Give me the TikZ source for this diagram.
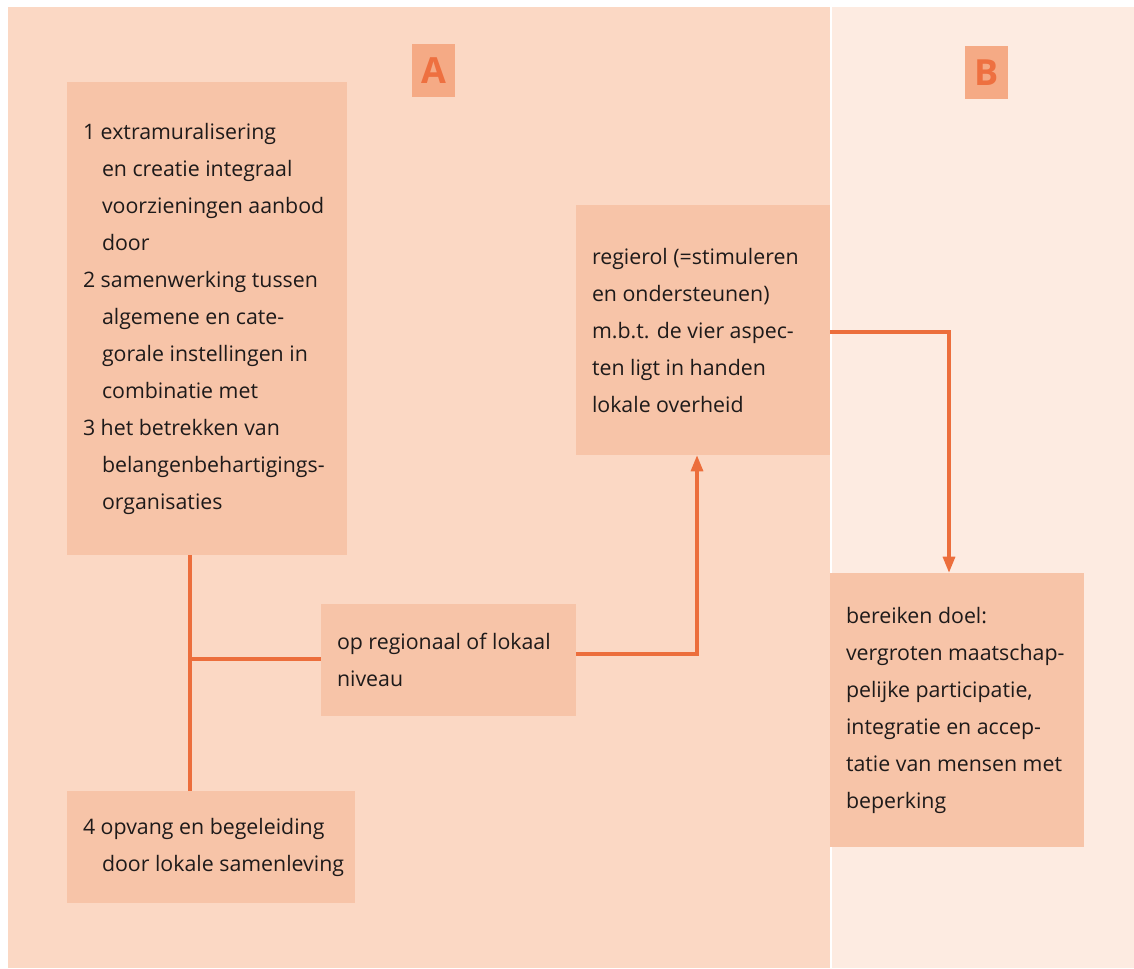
\documentclass[tikz,border=0pt]{standalone}
\usepackage{fontspec}
\setmainfont{Open Sans}
\usetikzlibrary{arrows.meta}
\definecolor{panelA}{HTML}{FBD8C4}
\definecolor{panelB}{HTML}{FDEBE1}
\definecolor{boxc}{HTML}{F7C4A8}
\definecolor{labbox}{HTML}{F5AA85}
\definecolor{labtxt}{HTML}{EE7040}
\definecolor{linec}{HTML}{EC6E3C}
\definecolor{txt}{HTML}{1E1A1A}
\tikzset{
  box/.style={fill=boxc, draw=none, inner sep=0, minimum width=#1},
  boxtext/.style={anchor=west, inner sep=0, align=left, text=txt,
    font=\fontsize{16}{27.75}\selectfont},
  labelbox/.style={fill=labbox, inner sep=0, minimum width=32.25pt, minimum height=39.75pt,
    text=labtxt, font=\fontsize{27}{30}\selectfont\bfseries},
  conn/.style={draw=linec, line width=2.3pt},
  arr/.style={conn, -{Triangle[length=12pt,width=9pt]}}
}
\begin{document}
\begin{tikzpicture}[x=0.75pt,y=-0.75pt]
\useasboundingbox (0,0) rectangle (1134,968);
% panels
\fill[white] (0,0) rectangle (1134,968);
\fill[panelA] (8,7) rectangle (830,968);
\fill[panelB] (832,7) rectangle (1134,968);
% labels
\node[labelbox] (A) at (433.5,70.5) {A};
\node[labelbox] (B) at (986.5,72.5) {B};
% boxes
\node[box=210pt, minimum height=354.75pt] (b1) at (207,318.5) {};
\node[boxtext] (t1) at ([xshift=12pt]b1.west) {1 extramuralisering\\
\hspace*{14.25pt}en creatie integraal\\
\hspace*{14.25pt}voorzieningen aanbod\\
\hspace*{14.25pt}door\\
2 samenwerking tussen\\
\hspace*{14.25pt}algemene en cate-\\
\hspace*{14.25pt}gorale instellingen in\\
\hspace*{14.25pt}combinatie met\\
3 het betrekken van\\
\hspace*{14.25pt}belangenbehartigings-\\
\hspace*{14.25pt}organisaties};
\node[box=190.5pt, minimum height=187.5pt] (b2) at (703,330) {};
\node[boxtext] (t2) at ([xshift=12pt]b2.west) {regierol (=stimuleren\\
en ondersteunen)\\
m.b.t. de vier aspec-\\
ten ligt in handen\\
lokale overheid};
\node[box=191.25pt, minimum height=84pt] (b3) at (448.5,660) {};
\node[boxtext] (t3) at ([xshift=12pt]b3.west) {op regionaal of lokaal\\
niveau};
\node[box=216pt, minimum height=84pt] (b4) at (211,847) {};
\node[boxtext] (t4) at ([xshift=12pt]b4.west) {4 opvang en begeleiding\\
\hspace*{14.25pt}door lokale samenleving};
\node[box=190.5pt, minimum height=205.5pt] (b5) at (957,710) {};
\node[boxtext] (t5) at ([xshift=12pt]b5.west) {bereiken doel:\\
vergroten maatschap-\\
pelijke participatie,\\
integratie en accep-\\
tatie van mensen met\\
beperking};
% connectors
\coordinate (j) at (190,659);
\draw[conn] (b1.south -| j) -- (b4.north -| j);
\draw[conn] (j) -- (b3.west |- j);
\coordinate (c1) at (697,654);
\draw[arr] (b3.east |- c1) -- (c1) -- (b2.south -| c1);
\coordinate (c2) at (949,332);
\draw[arr] (b2.east |- c2) -- (c2) -- (b5.north -| c2);
\end{tikzpicture}
\end{document}
